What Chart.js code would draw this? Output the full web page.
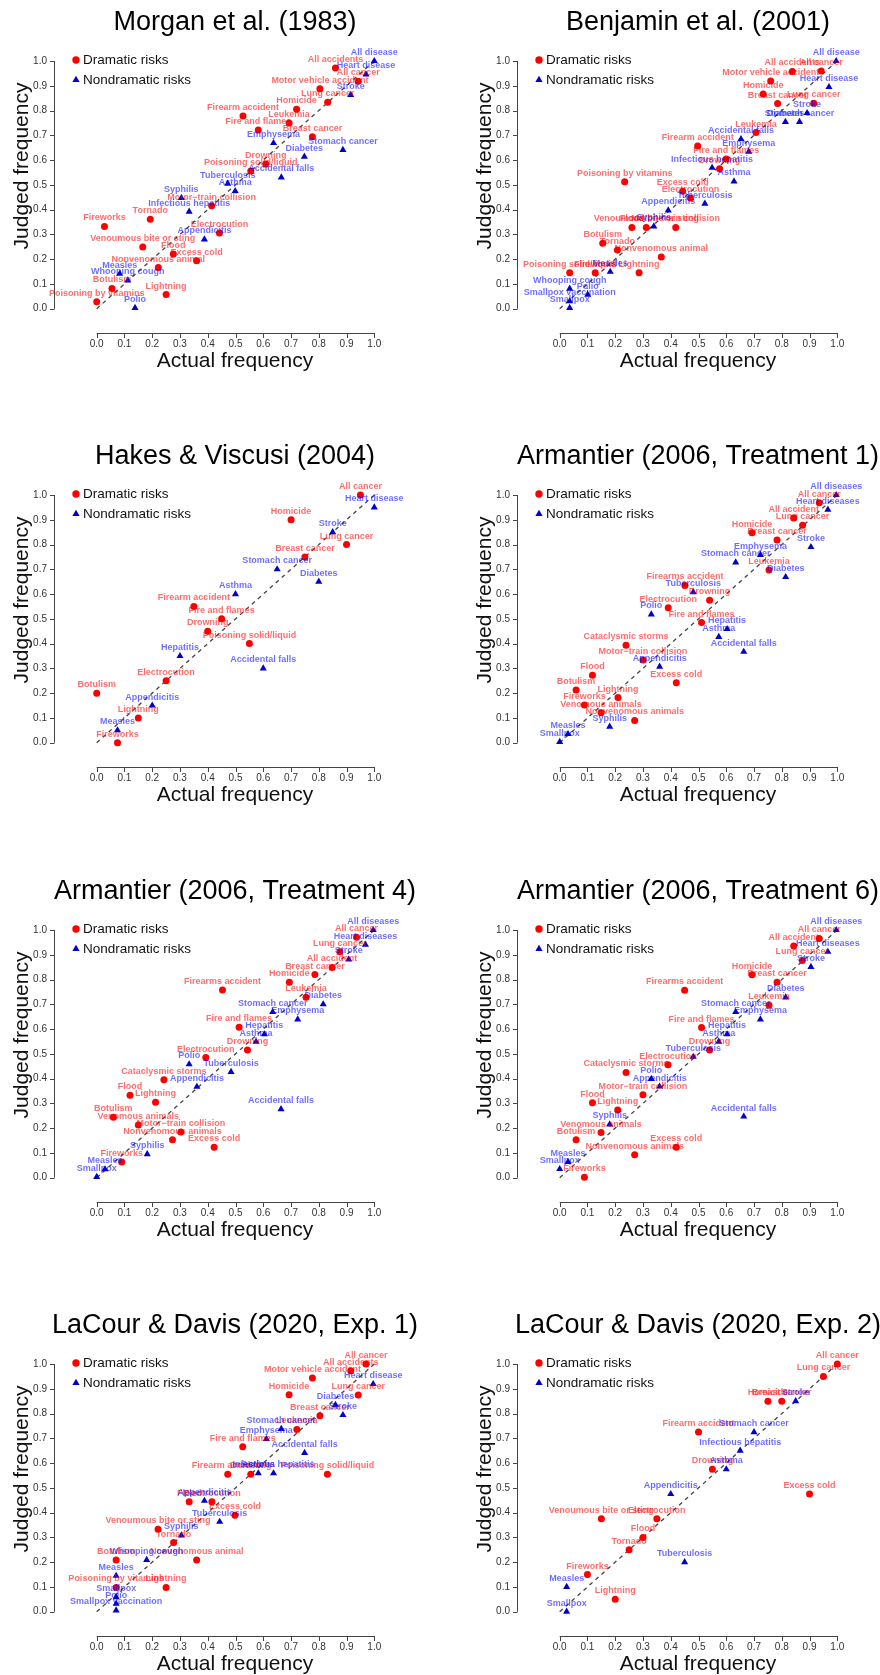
<!DOCTYPE html>
<html>
<head>
<meta charset="utf-8">
<script src="https://cdn.jsdelivr.net/npm/chart.js@4.4.1/dist/chart.umd.min.js"></script>
<style>
  body { margin: 0; background: #fff; }
  #wrap { position: relative; width: 880px; height: 1675px; overflow: hidden; }
  #wrap canvas { position: absolute; }
</style>
</head>
<body>
<div id="wrap"></div>
<script>
// Panel titles
const titles = [
  'Morgan et al. (1983)', 'Benjamin et al. (2001)',
  'Hakes & Viscusi (2004)', 'Armantier (2006, Treatment 1)',
  'Armantier (2006, Treatment 4)', 'Armantier (2006, Treatment 6)',
  'LaCour & Davis (2020, Exp. 1)', 'LaCour & Davis (2020, Exp. 2)'
];
const tickValues = [0, 0.1, 0.2, 0.3, 0.4, 0.5, 0.6, 0.7, 0.8, 0.9, 1.0];
const tickLabels = ['0.0', '0.1', '0.2', '0.3', '0.4', '0.5', '0.6', '0.7', '0.8', '0.9', '1.0'];
const legendLabels = ['Dramatic risks', 'Nondramatic risks'];

// [name, actual, judged]
const morganDramatic = [
  ['All accidents', 0.860, 0.972], ['All cancer', 0.942, 0.918], ['Motor vehicle accident', 0.804, 0.888],
  ['Lung cancer', 0.832, 0.833], ['Homicide', 0.720, 0.805], ['Firearm accident', 0.527, 0.778],
  ['Leukemia', 0.693, 0.750], ['Fire and flames', 0.582, 0.721], ['Breast cancer', 0.777, 0.694],
  ['Drowning', 0.609, 0.584], ['Poisoning solid/liquid', 0.555, 0.556], ['Motor\u2212train collision', 0.414, 0.416],
  ['Tornado', 0.193, 0.361], ['Fireworks', 0.028, 0.332], ['Electrocution', 0.442, 0.306],
  ['Venoumous bite or sting', 0.166, 0.249], ['Flood', 0.276, 0.221], ['Excess cold', 0.360, 0.194],
  ['Nonvenomous animal', 0.222, 0.166], ['Botulism', 0.055, 0.082], ['Poisoning by vitamins', 0.0, 0.028],
  ['Lightning', 0.250, 0.057]
];
const morganNondramatic = [
  ['All disease', 1.0, 1.0], ['Heart disease', 0.970, 0.946], ['Stroke', 0.915, 0.863],
  ['Emphysema', 0.637, 0.669], ['Stomach cancer', 0.887, 0.641], ['Diabetes', 0.748, 0.614],
  ['Accidental falls', 0.665, 0.530], ['Tuberculosis', 0.472, 0.505], ['Asthma', 0.499, 0.475],
  ['Syphilis', 0.305, 0.447], ['Infectious hepatitis', 0.333, 0.392], ['Appendicitis', 0.388, 0.280],
  ['Measles', 0.083, 0.141], ['Whooping cough', 0.112, 0.114], ['Polio', 0.138, 0.003]
];

const benjaminDramatic = [
  ['All accidents', 0.838, 0.958], ['All cancer', 0.942, 0.960], ['Motor vehicle accident', 0.760, 0.919],
  ['Homicide', 0.733, 0.867], ['Lung cancer', 0.915, 0.829], ['Breast cancer', 0.785, 0.828],
  ['Leukemia', 0.707, 0.711], ['Firearm accident', 0.497, 0.657], ['Fire and flames', 0.600, 0.604],
  ['Drowning', 0.576, 0.565], ['Poisoning by vitamins', 0.234, 0.513], ['Excess cold', 0.443, 0.474],
  ['Electrocution', 0.471, 0.447], ['Flood', 0.260, 0.328], ['Venoumous bite or sting', 0.312, 0.328],
  ['Motor\u2212train collision', 0.418, 0.328], ['Botulism', 0.155, 0.264], ['Tornado', 0.208, 0.237],
  ['Nonvenomous animal', 0.366, 0.209], ['Poisoning solid/liquid', 0.036, 0.145], ['Fireworks', 0.128, 0.145],
  ['Lightning', 0.286, 0.145]
];
const benjaminNondramatic = [
  ['All disease', 0.996, 1.0], ['Heart disease', 0.970, 0.895], ['Stroke', 0.891, 0.790],
  ['Stomach cancer', 0.864, 0.754], ['Diabetes', 0.813, 0.754], ['Accidental falls', 0.653, 0.685],
  ['Emphysema', 0.681, 0.634], ['Infectious hepatitis', 0.549, 0.569], ['Asthma', 0.628, 0.514],
  ['Tuberculosis', 0.523, 0.424], ['Appendicitis', 0.391, 0.397], ['Syphilis', 0.339, 0.332],
  ['Measles', 0.182, 0.149], ['Whooping cough', 0.036, 0.081], ['Polio', 0.101, 0.057],
  ['Smallpox vaccination', 0.036, 0.030], ['Smallpox', 0.036, 0.003]
];

const hakesDramatic = [
  ['All cancer', 0.95, 1.0], ['Homicide', 0.70, 0.90], ['Lung cancer', 0.90, 0.80],
  ['Breast cancer', 0.75, 0.75], ['Firearm accident', 0.35, 0.55], ['Fire and flames', 0.45, 0.50],
  ['Drowning', 0.40, 0.45], ['Poisoning solid/liquid', 0.55, 0.40], ['Electrocution', 0.25, 0.25],
  ['Botulism', 0.0, 0.20], ['Lightning', 0.15, 0.10], ['Fireworks', 0.075, 0.0]
];
const hakesNondramatic = [
  ['Heart disease', 1.0, 0.95], ['Stroke', 0.85, 0.85], ['Stomach cancer', 0.65, 0.70],
  ['Diabetes', 0.80, 0.65], ['Asthma', 0.50, 0.60], ['Hepatitis', 0.30, 0.35],
  ['Accidental falls', 0.60, 0.30], ['Appendicitis', 0.20, 0.15], ['Measles', 0.075, 0.05]
];

const armantier1Dramatic = [
  ['All cancer', 0.935, 0.969], ['All accident', 0.843, 0.907], ['Lung cancer', 0.875, 0.878],
  ['Homicide', 0.693, 0.848], ['Breast cancer', 0.783, 0.818], ['Leukemia', 0.754, 0.697],
  ['Firearms accident', 0.451, 0.635], ['Drowning', 0.540, 0.575], ['Electrocution', 0.391, 0.545],
  ['Fire and flames', 0.511, 0.485], ['Cataclysmic storms', 0.239, 0.393], ['Motor\u2212train collision', 0.300, 0.334],
  ['Flood', 0.118, 0.272], ['Excess cold', 0.420, 0.242], ['Botulism', 0.059, 0.213],
  ['Lightning', 0.210, 0.182], ['Fireworks', 0.089, 0.152], ['Venomous animals', 0.149, 0.121],
  ['Nonvenomous animals', 0.270, 0.090]
];
const armantier1Nondramatic = [
  ['All diseases', 0.996, 1.0], ['Heart diseases', 0.966, 0.941], ['Stroke', 0.905, 0.790],
  ['Emphysema', 0.723, 0.758], ['Stomach cancer', 0.634, 0.728], ['Diabetes', 0.814, 0.669],
  ['Tuberculosis', 0.481, 0.608], ['Polio', 0.330, 0.518], ['Hepatitis', 0.603, 0.459],
  ['Asthma', 0.573, 0.427], ['Accidental falls', 0.663, 0.367], ['Appendicitis', 0.360, 0.307],
  ['Syphilis', 0.180, 0.065], ['Measles', 0.030, 0.035], ['Smallpox', 0.0, 0.003]
];

const armantier4Dramatic = [
  ['All cancer', 0.936, 0.971], ['Lung cancer', 0.876, 0.912], ['All accident', 0.848, 0.849],
  ['Breast cancer', 0.786, 0.820], ['Homicide', 0.694, 0.789], ['Firearms accident', 0.453, 0.758],
  ['Leukemia', 0.754, 0.728], ['Fire and flames', 0.513, 0.607], ['Drowning', 0.543, 0.516],
  ['Electrocution', 0.393, 0.485], ['Cataclysmic storms', 0.242, 0.395], ['Flood', 0.120, 0.333],
  ['Lightning', 0.212, 0.305], ['Botulism', 0.060, 0.244], ['Venomous animals', 0.150, 0.213],
  ['Motor\u2212train collision', 0.303, 0.184], ['Nonvenomous animals', 0.273, 0.153], ['Excess cold', 0.423, 0.123],
  ['Fireworks', 0.090, 0.063]
];
const armantier4Nondramatic = [
  ['All diseases', 0.996, 1.0], ['Heart diseases', 0.968, 0.941], ['Stroke', 0.908, 0.881],
  ['Diabetes', 0.816, 0.700], ['Stomach cancer', 0.634, 0.669], ['Emphysema', 0.724, 0.639],
  ['Hepatitis', 0.604, 0.579], ['Asthma', 0.574, 0.549], ['Polio', 0.333, 0.458],
  ['Tuberculosis', 0.484, 0.427], ['Appendicitis', 0.361, 0.367], ['Accidental falls', 0.664, 0.277],
  ['Syphilis', 0.182, 0.095], ['Measles', 0.030, 0.034], ['Smallpox', 0.0, 0.003]
];

const armantier6Dramatic = [
  ['All cancer', 0.935, 0.966], ['All accident', 0.843, 0.935], ['Lung cancer', 0.874, 0.877],
  ['Homicide', 0.693, 0.819], ['Breast cancer', 0.783, 0.789], ['Firearms accident', 0.450, 0.757],
  ['Leukemia', 0.754, 0.696], ['Fire and flames', 0.511, 0.606], ['Drowning', 0.540, 0.516],
  ['Electrocution', 0.390, 0.456], ['Cataclysmic storms', 0.239, 0.425], ['Motor\u2212train collision', 0.300, 0.335],
  ['Flood', 0.118, 0.303], ['Lightning', 0.209, 0.273], ['Venomous animals', 0.149, 0.182],
  ['Botulism', 0.059, 0.153], ['Excess cold', 0.420, 0.123], ['Nonvenomous animals', 0.270, 0.093],
  ['Fireworks', 0.089, 0.002]
];
const armantier6Nondramatic = [
  ['All diseases', 0.996, 1.0], ['Heart diseases', 0.966, 0.912], ['Stroke', 0.905, 0.851],
  ['Diabetes', 0.814, 0.728], ['Stomach cancer', 0.634, 0.669], ['Emphysema', 0.723, 0.639],
  ['Hepatitis', 0.603, 0.579], ['Asthma', 0.573, 0.549], ['Tuberculosis', 0.481, 0.488],
  ['Polio', 0.330, 0.399], ['Appendicitis', 0.360, 0.368], ['Accidental falls', 0.663, 0.247],
  ['Syphilis', 0.180, 0.215], ['Measles', 0.030, 0.064], ['Smallpox', 0.0, 0.035]
];

const lacour1Dramatic = [
  ['All cancer', 0.970, 1.0], ['All accidents', 0.915, 0.973], ['Motor vehicle accident', 0.777, 0.943],
  ['Lung cancer', 0.942, 0.875], ['Homicide', 0.693, 0.876], ['Breast cancer', 0.804, 0.791],
  ['Leukemia', 0.721, 0.736], ['Fire and flames', 0.526, 0.666], ['Firearm accident', 0.472, 0.555],
  ['Drowning', 0.555, 0.555], ['Poisoning solid/liquid', 0.831, 0.555], ['Flood', 0.333, 0.444],
  ['Electrocution', 0.415, 0.444], ['Excess cold', 0.498, 0.389], ['Venoumous bite or sting', 0.221, 0.333],
  ['Tornado', 0.277, 0.279], ['Botulism', 0.070, 0.209], ['Nonvenomous animal', 0.360, 0.209],
  ['Poisoning by vitamins', 0.070, 0.098], ['Lightning', 0.250, 0.098]
];
const lacour1Nondramatic = [
  ['Heart disease', 0.996, 0.919], ['Diabetes', 0.860, 0.835], ['Stroke', 0.887, 0.794],
  ['Stomach cancer', 0.665, 0.738], ['Emphysema', 0.611, 0.697], ['Accidental falls', 0.749, 0.641],
  ['Infectious hepatitis', 0.637, 0.559], ['Asthma', 0.582, 0.559], ['Appendicitis', 0.388, 0.448],
  ['Tuberculosis', 0.443, 0.363], ['Syphilis', 0.305, 0.308], ['Whooping cough', 0.180, 0.209],
  ['Measles', 0.070, 0.145], ['Smallpox', 0.070, 0.059], ['Polio', 0.070, 0.032],
  ['Smallpox vaccination', 0.070, 0.005]
];

const lacour2Dramatic = [
  ['All cancer', 1.0, 1.0], ['Lung cancer', 0.95, 0.95], ['Homicide', 0.75, 0.85],
  ['Breast cancer', 0.80, 0.85], ['Firearm accident', 0.50, 0.725], ['Drowning', 0.55, 0.575],
  ['Excess cold', 0.90, 0.475], ['Venoumous bite or sting', 0.15, 0.375], ['Electrocution', 0.35, 0.375],
  ['Flood', 0.30, 0.30], ['Tornado', 0.25, 0.25], ['Fireworks', 0.10, 0.15],
  ['Lightning', 0.20, 0.05]
];
const lacour2Nondramatic = [
  ['Stroke', 0.85, 0.85], ['Stomach cancer', 0.70, 0.725], ['Infectious hepatitis', 0.65, 0.65],
  ['Asthma', 0.60, 0.575], ['Appendicitis', 0.40, 0.475], ['Tuberculosis', 0.45, 0.20],
  ['Measles', 0.025, 0.10], ['Smallpox', 0.025, 0.0]
];

const panels = [
  [morganDramatic, morganNondramatic], [benjaminDramatic, benjaminNondramatic],
  [hakesDramatic, hakesNondramatic], [armantier1Dramatic, armantier1Nondramatic],
  [armantier4Dramatic, armantier4Nondramatic], [armantier6Dramatic, armantier6Nondramatic],
  [lacour1Dramatic, lacour1Nondramatic], [lacour2Dramatic, lacour2Nondramatic]
];

// panel geometry (one canvas per panel)
const W = 463, H = 435;
const FONT = '"Liberation Sans", Arial, sans-serif';
const RED = '#ff0000', BLUE = '#0000cc';

function triangle(ctx, x, y, r) {
  ctx.beginPath();
  ctx.moveTo(x, y - r);
  ctx.lineTo(x + r * Math.sin(2 * Math.PI / 3), y + r / 2);
  ctx.lineTo(x - r * Math.sin(2 * Math.PI / 3), y + r / 2);
  ctx.closePath();
  ctx.fill();
}

const frame = {
  id: 'frame',
  beforeDatasetsDraw(chart) {
    const ctx = chart.ctx;
    const xs = chart.scales.x, ys = chart.scales.y;
    const y0 = ys.getPixelForValue(0), y1 = ys.getPixelForValue(1);
    const x0 = xs.getPixelForValue(0), x1 = xs.getPixelForValue(1);
    const axX = 54, axY = 333;
    ctx.save();
    // title
    ctx.fillStyle = '#000';
    ctx.font = '27px ' + FONT;
    ctx.textAlign = 'center';
    ctx.textBaseline = 'alphabetic';
    ctx.fillText(chart.options.plugins.frame.title, 235, 30);
    // axes
    ctx.strokeStyle = '#444';
    ctx.lineWidth = 1;
    ctx.beginPath();
    ctx.moveTo(axX + 0.5, y0); ctx.lineTo(axX + 0.5, y1);
    ctx.moveTo(x0, axY + 0.5); ctx.lineTo(x1, axY + 0.5);
    tickValues.forEach(v => {
      const py = Math.round(ys.getPixelForValue(v)) + 0.5;
      ctx.moveTo(axX - 4, py); ctx.lineTo(axX + 0.5, py);
      const px = Math.round(xs.getPixelForValue(v)) + 0.5;
      ctx.moveTo(px, axY); ctx.lineTo(px, axY + 5);
    });
    ctx.stroke();
    ctx.fillStyle = '#333';
    ctx.font = '10px ' + FONT;
    ctx.textBaseline = 'middle';
    tickValues.forEach((v, i) => {
      ctx.textAlign = 'right';
      ctx.fillText(tickLabels[i], 47, ys.getPixelForValue(v));
      ctx.textAlign = 'center';
      ctx.fillText(tickLabels[i], xs.getPixelForValue(v), 344);
    });
    // axis titles
    ctx.fillStyle = '#111';
    ctx.font = '21px ' + FONT;
    ctx.textAlign = 'center';
    ctx.textBaseline = 'alphabetic';
    ctx.fillText('Actual frequency', 235, 367);
    ctx.save();
    ctx.translate(28, 166);
    ctx.rotate(-Math.PI / 2);
    ctx.fillText('Judged frequency', 0, 0);
    ctx.restore();
    // legend
    ctx.fillStyle = RED;
    ctx.beginPath(); ctx.arc(76, 60, 3.7, 0, Math.PI * 2); ctx.fill();
    ctx.fillStyle = BLUE;
    triangle(ctx, 76, 80, 4.2);
    ctx.fillStyle = '#111';
    ctx.font = '13.5px ' + FONT;
    ctx.textAlign = 'left';
    ctx.textBaseline = 'middle';
    ctx.fillText(legendLabels[0], 83, 60);
    ctx.fillText(legendLabels[1], 83, 80);
    ctx.restore();
  },
  afterDatasetsDraw(chart) {
    const ctx = chart.ctx;
    const names = chart.options.plugins.frame.names;
    const colours = ['rgba(255,0,0,0.58)', 'rgba(0,0,255,0.58)'];
    ctx.save();
    ctx.font = 'bold 9px ' + FONT;
    ctx.textAlign = 'center';
    ctx.textBaseline = 'middle';
    [0, 1].forEach(d => {
      ctx.fillStyle = colours[d];
      chart.getDatasetMeta(d).data.forEach((pt, j) => {
        ctx.fillText(names[d][j], pt.x, pt.y - 8.5);
      });
    });
    ctx.restore();
  }
};

const wrap = document.getElementById('wrap');
const colLeft = [0, 463];
const rowTop = [0, 434, 869, 1303];

panels.forEach((p, i) => {
  const canvas = document.createElement('canvas');
  canvas.width = W;
  canvas.height = H;
  canvas.style.left = colLeft[i % 2] + 'px';
  canvas.style.top = rowTop[Math.floor(i / 2)] + 'px';
  wrap.appendChild(canvas);
  const [dramatic, nondramatic] = p;
  new Chart(canvas.getContext('2d'), {
    type: 'scatter',
    data: {
      datasets: [
        {
          data: dramatic.map(d => ({ x: d[1], y: d[2] })),
          pointStyle: 'circle', pointRadius: 3.5, backgroundColor: RED, borderWidth: 0, clip: false
        },
        {
          data: nondramatic.map(d => ({ x: d[1], y: d[2] })),
          pointStyle: 'triangle', pointRadius: 4.1, backgroundColor: BLUE, borderWidth: 0, clip: false
        },
        {
          data: [{ x: 0, y: 0 }, { x: 1, y: 1 }],
          showLine: true, borderColor: '#444', borderWidth: 1.3, borderDash: [4, 4],
          pointRadius: 0, clip: false
        }
      ]
    },
    options: {
      responsive: false,
      animation: false,
      events: [],
      layout: { padding: { left: 96.7, top: 61, right: W - 374.3, bottom: H - 308.7 } },
      scales: {
        x: { type: 'linear', min: 0, max: 1, display: false },
        y: { type: 'linear', min: 0, max: 1, display: false }
      },
      plugins: {
        legend: { display: false },
        tooltip: { enabled: false },
        frame: { title: titles[i], names: [dramatic.map(d => d[0]), nondramatic.map(d => d[0])] }
      }
    },
    plugins: [frame]
  });
});
</script>
</body>
</html>
